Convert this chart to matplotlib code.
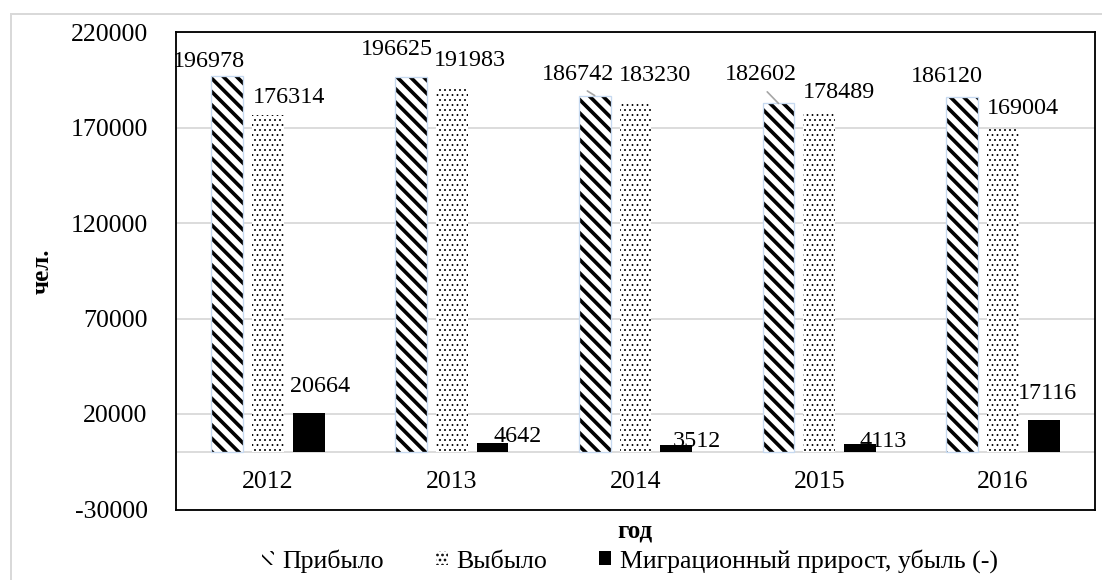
from matplotlib import pyplot as plt
from matplotlib.patches import Rectangle
import matplotlib as mpl
import numpy as np

years = ['2012', '2013', '2014', '2015', '2016']
arrived = [196978, 196625, 186742, 182602, 186120]
departed = [176314, 191983, 183230, 178489, 169004]
migration = [20664, 4642, 3512, 4113, 17116]
series_names = ['Прибыло', 'Выбыло', 'Миграционный прирост, убыль (-)']
y_ticks = [-30000, 20000, 70000, 120000, 170000, 220000]

# label offsets in pixels (dx, dy) from the top of each bar, as Excel placed them
arrived_offsets = [(-18, 14), (-14, 27), (-17, 21), (-18, 29), (-15, 20)]
departed_offsets = [(21, 18), (18, 25), (19, 27), (20, 19), (20, 21)]
migration_offsets = [(11, 26), (25, 7), (21, 4), (23, 3), (4, 26)]
leader_lines = [False, False, True, True, False]

SERIF = 'Liberation Serif'
STRIPES = '\\\\\\'
DOTS = '....'


def hatched_bar(ax, x, values, hatch, lw):
    with mpl.rc_context({'hatch.linewidth': lw}):
        bars = ax.bar(x, values, width=0.172, facecolor='white', edgecolor='black',
                      linewidth=0, hatch=hatch, zorder=3)
    for b in bars:
        if hasattr(b, 'set_hatch_linewidth'):
            b.set_hatch_linewidth(lw)
    return bars


def main():
    plt.rcParams['font.family'] = [SERIF, 'DejaVu Serif']
    fig = plt.figure(figsize=(1102 / 120, 580 / 120), dpi=120)
    ax = fig.add_axes([176 / 1102, 1 - 509.5 / 580, 919 / 1102, 477.5 / 580])

    # outer chart border
    fig.patches.append(Rectangle((11 / 1102, -0.1), 1.2, 1 - 14 / 580 + 0.1,
                                 transform=fig.transFigure, fill=False,
                                 edgecolor='#d9d9d9', linewidth=1.2))

    x = np.arange(len(years))
    off = 0.222
    hatched_bar(ax, x - off, arrived, STRIPES, 2.2)
    ax.bar(x - off, arrived, width=0.172, fill=False, edgecolor='#c6d9f0',
           linewidth=0.8, zorder=4)
    hatched_bar(ax, x, departed, DOTS, 0.55)
    ax.bar(x + off, migration, width=0.172, color='black', zorder=3)

    for vals, offs, dx in ((arrived, arrived_offsets, -off),
                           (departed, departed_offsets, 0),
                           (migration, migration_offsets, off)):
        for i, (v, o) in enumerate(zip(vals, offs)):
            kw = {}
            if vals is arrived and leader_lines[i]:
                kw['arrowprops'] = dict(arrowstyle='-', color='#a6a6a6', lw=1.0,
                                        shrinkA=3, shrinkB=0, relpos=(0.5, 0.0))
            ax.annotate(str(v), xy=(i + dx, v), xytext=o, textcoords='offset pixels',
                        ha='center', va='center', fontsize=14.5, zorder=5, **kw)

    ax.set_xlim(-0.5, len(years) - 0.5)
    ax.set_ylim(y_ticks[0], y_ticks[-1])
    ax.set_yticks(y_ticks)
    ax.set_yticklabels([str(t) for t in y_ticks], fontsize=15.5)
    ax.tick_params(axis='y', length=0, pad=17)
    ax.set_xticks([])
    ax.yaxis.grid(True, color='#d9d9d9', linewidth=1.1, zorder=0)
    ax.set_axisbelow(True)
    ax.axhline(0, color='#d9d9d9', linewidth=1.1, zorder=1)
    for s in ax.spines.values():
        s.set_linewidth(1.1)
        s.set_color('black')

    for i, y in enumerate(years):
        ax.text(i, -15500, y, ha='center', va='center', fontsize=15.5)

    ax.set_ylabel('чел.', fontsize=15, fontweight='bold')
    ax.yaxis.set_label_coords(-0.133, 0.5)
    fig.text(635 / 1102, 1 - 531 / 580, 'год', ha='center', va='center',
             fontsize=15, fontweight='bold')

    with mpl.rc_context({'hatch.linewidth': 2.2}):
        h1 = Rectangle((0, 0), 1, 1, facecolor='white', edgecolor='black', hatch=STRIPES, linewidth=0)
    with mpl.rc_context({'hatch.linewidth': 0.55}):
        h2 = Rectangle((0, 0), 1, 1, facecolor='white', edgecolor='black', hatch=DOTS, linewidth=0)
    h3 = Rectangle((0, 0), 1, 1, facecolor='black', edgecolor='black', linewidth=0)
    fig.legend([h1, h2, h3], series_names, loc='center',
               bbox_to_anchor=(630 / 1102, 1 - 561 / 580),
               ncol=3, frameon=False, fontsize=15.5, handlelength=0.45, handleheight=0.45,
               handletextpad=0.35, columnspacing=2.0, borderpad=0)

    fig.savefig('out.png', dpi=120)


if __name__ == '__main__':
    main()
